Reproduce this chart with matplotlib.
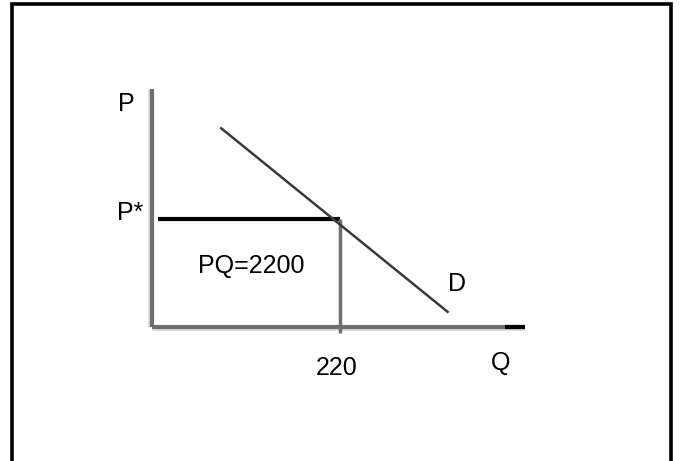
import matplotlib.pyplot as plt
from matplotlib.patches import Rectangle

# demand curve endpoints (Q, P)
demand_q = [81, 346]
demand_p = [18.4, 1.4]

# equilibrium point
q_star = 220
p_star = 10
revenue_label = "PQ=2200"

# axis extents
q_max = 436.5
p_max = 22.0

plt.rcParams['font.family'] = ['Liberation Sans', 'DejaVu Sans']

fig = plt.figure(figsize=(6.8, 4.61), dpi=100)
ax = fig.add_axes([0, 0, 1, 1])
# pixel mapping: origin at (152, 327), 0.8545 px per Q unit, 10.8 px per P unit
ax.set_xlim(-152 / 0.8545, 528 / 0.8545)
ax.set_ylim(-134 / 10.8, 327 / 10.8)
ax.axis('off')

# outer frame (bottom edge runs off the picture)
fig.patches.append(Rectangle((12 / 680, -0.05), 659 / 680, 1.05 - 4 / 461,
                             transform=fig.transFigure, fill=False,
                             edgecolor='black', linewidth=2.6))

# axes, with a light edge like the scanned original
ax.plot([-3.5, -3.5], [0, p_max], color='#d9d9d9', lw=2, solid_capstyle='butt')
ax.plot([0, 0], [0, p_max], color='#6e6e6e', lw=3, solid_capstyle='butt')
ax.plot([0, q_max], [-0.2, -0.2], color='#d9d9d9', lw=2, solid_capstyle='butt')
ax.plot([0, q_max], [0, 0], color='#6e6e6e', lw=3, solid_capstyle='butt')
ax.plot([q_max - 23, q_max], [0, 0], color='black', lw=3, solid_capstyle='butt')

# revenue box
ax.plot([7, q_star], [p_star, p_star], color='black', lw=3, solid_capstyle='butt')
ax.plot([q_star, q_star], [-0.55, p_star], color='#6e6e6e', lw=2.5, solid_capstyle='butt')

# demand
ax.plot(demand_q, demand_p, color='#3a3a3a', lw=1.8)

fs = 18
ax.text(-30.4, 20.0, "P", fontsize=fs, ha='center', va='baseline')
ax.text(-41, 9.9, "P*", fontsize=fs, ha='left', va='baseline')
ax.text(115.9, 5.0, revenue_label, fontsize=fs, ha='center', va='baseline')
ax.text(357, 3.35, "D", fontsize=fs, ha='center', va='baseline')
ax.text(216.5, -4.45, "220", fontsize=fs, ha='center', va='baseline')
ax.text(408.4, -4.0, "Q", fontsize=fs, ha='center', va='baseline')

fig.savefig('out.png', dpi=100)
